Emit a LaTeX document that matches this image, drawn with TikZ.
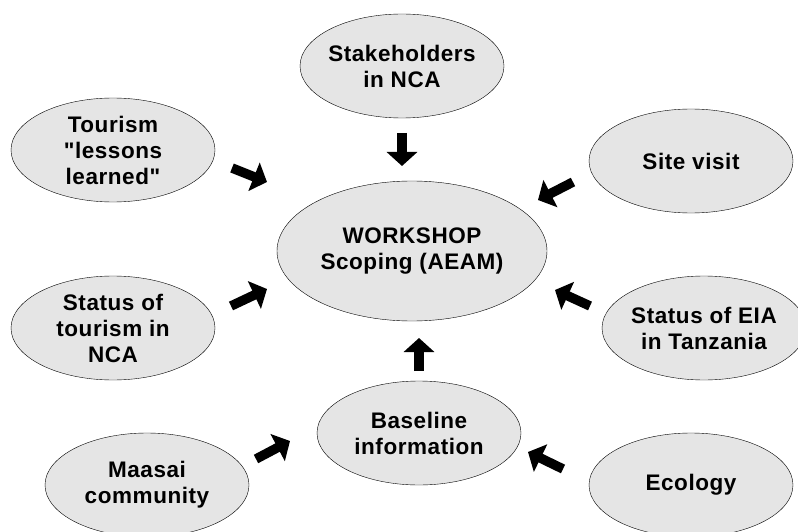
\documentclass[tikz,border=0pt]{standalone}
\usepackage{fontspec}
\setmainfont{Liberation Sans}[Ligatures=TeXOff, LetterSpace=2.5]
\usetikzlibrary{shapes,arrows.meta,positioning,calc}
\usepackage{xcolor}

\begin{document}
\begin{tikzpicture}[
    x=1pt, y=-1pt,
    bubble/.style={ellipse, draw, thin, fill=gray!20, align=center, font=\fontsize{22.5}{26}\selectfont\bfseries,
        minimum width=204pt, minimum height=104pt, inner xsep=-45pt, inner ysep=-15pt},
    centre/.style={bubble, minimum width=270pt, minimum height=140pt},
    blockarrow/.style={line width=9.5pt, -{Triangle[length=14pt,width=30pt]}}
]
\useasboundingbox (0,0) rectangle (798,532);

% Central workshop
\node[centre] (workshop) at (412,251) {WORKSHOP\\Scoping (AEAM)};

% Inputs
\node[bubble] (stake) at (402,66) {Stakeholders\\in NCA};
\node[bubble] (lessons) at (113,150) {Tourism\\"lessons\\learned"};
\node[bubble] (site) at (691,161) {Site visit};
\node[bubble] (tourism) at (113,328) {Status of\\tourism in\\NCA};
\node[bubble] (eia) at (704,328) {Status of EIA\\in Tanzania};
\node[bubble] (baseline) at (419,433) {Baseline\\information};
\node[bubble] (maasai) at (147,485) {Maasai\\community};
\node[bubble] (ecology) at (691,485) {Ecology};

% Arrow ends
\coordinate (s1) at (402,133);  \coordinate (e1) at (402,166);
\coordinate (s2) at (232,168);  \coordinate (e2) at (267,182);
\coordinate (s3) at (573,182);  \coordinate (e3) at (538,200);
\coordinate (s4) at (231,306);  \coordinate (e4) at (267,289);
\coordinate (s5) at (590,306);  \coordinate (e5) at (555,290);
\coordinate (s6) at (419,371);  \coordinate (e6) at (419,338);
\coordinate (s7) at (256,459);  \coordinate (e7) at (290,441);
\coordinate (s8) at (563,469);  \coordinate (e8) at (528,452);

% Arrows
\draw[blockarrow] (s1) -- (e1);
\draw[blockarrow] (s2) -- (e2);
\draw[blockarrow] (s3) -- (e3);
\draw[blockarrow] (s4) -- (e4);
\draw[blockarrow] (s5) -- (e5);
\draw[blockarrow] (s6) -- (e6);
\draw[blockarrow] (s7) -- (e7);
\draw[blockarrow] (s8) -- (e8);

\end{tikzpicture}
\end{document}
